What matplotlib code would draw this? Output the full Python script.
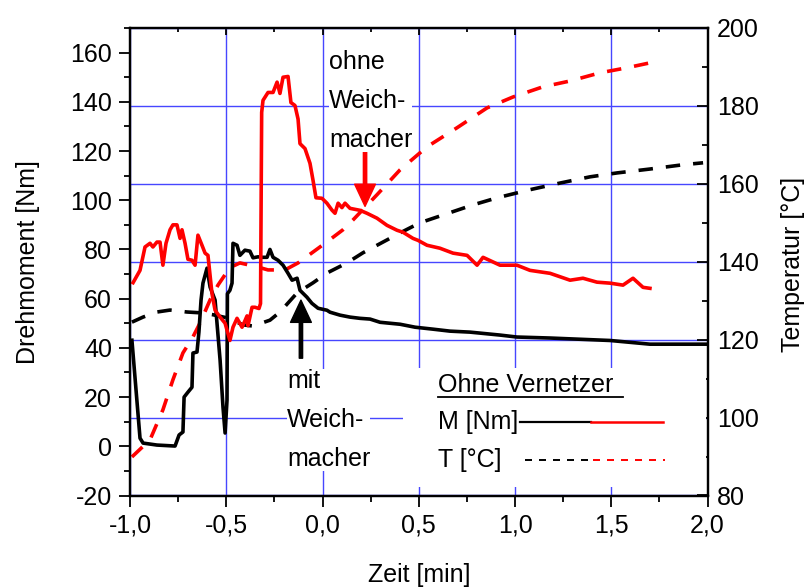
import matplotlib
matplotlib.use("Agg")
from matplotlib import pyplot as plt
from matplotlib.ticker import MultipleLocator
from matplotlib.patches import Rectangle

plt.rcParams['font.family'] = ['Liberation Sans', 'DejaVu Sans']
plt.rcParams['font.size'] = 18
plt.rcParams['axes.unicode_minus'] = False

# Drehmoment ohne Weichmacher (rot)
zeit_rot = [-0.984, -0.948, -0.922, -0.896, -0.881, -0.860, -0.844, -0.829, -0.813, -0.792,
            -0.777, -0.756, -0.740, -0.730, -0.714, -0.699, -0.678, -0.662, -0.647, -0.626,
            -0.610, -0.595, -0.574, -0.558, -0.532, -0.506, -0.481, -0.465, -0.444, -0.418,
            -0.403, -0.392, -0.387, -0.366, -0.351, -0.330, -0.322, -0.316, -0.309, -0.283,
            -0.257, -0.236, -0.221, -0.205, -0.179, -0.164, -0.143, -0.127, -0.117, -0.091,
            -0.065, -0.049, -0.034, -0.003, 0.023, 0.049, 0.065, 0.081, 0.101, 0.117,
            0.143, 0.195, 0.231, 0.283, 0.335, 0.387, 0.418, 0.470, 0.496, 0.543,
            0.610, 0.678, 0.751, 0.803, 0.834, 0.922, 1.010, 1.078, 1.182, 1.286,
            1.353, 1.426, 1.494, 1.561, 1.613, 1.665, 1.701]
M_rot = [66.5, 71.5, 81, 82.5, 81, 83, 83, 73.6, 82.5, 88,
         90, 90, 84.5, 88, 82.5, 76, 75.6, 73.6, 85.8, 81.7,
         78.5, 77.6, 62, 55.3, 52.5, 50, 43, 48.4, 52, 48.4,
         51, 53, 49, 56.5, 56.5, 56, 58, 135.7, 140.6, 143.8,
         143.8, 148, 143.4, 150, 150.3, 139.7, 138.5, 133, 123, 121,
         115, 108, 101, 100.8, 98.8, 96, 94.7, 98.8, 97, 98.8,
         96.7, 95.9, 94.7, 92.7, 89.8, 87.8, 87, 84.5, 83.7, 81.7,
         80.5, 78.5, 77.6, 73.6, 76.8, 73.6, 73.6, 71.5, 70.3, 67.5,
         68.3, 66.7, 66.3, 65.5, 68.3, 64.6, 64.2]

# Drehmoment mit Weichmacher (schwarz)
zeit_sw = [-0.990, -0.948, -0.932, -0.860, -0.766, -0.745, -0.725, -0.719, -0.699, -0.678,
           -0.673, -0.652, -0.642, -0.631, -0.621, -0.600, -0.584, -0.558, -0.548, -0.532,
           -0.517, -0.506, -0.496, -0.494, -0.481, -0.470, -0.465, -0.444, -0.429, -0.403,
           -0.377, -0.361, -0.335, -0.314, -0.288, -0.273, -0.257, -0.231, -0.205, -0.179,
           -0.158, -0.132, -0.117, -0.081, -0.055, -0.023, 0.023, 0.039, 0.091, 0.143,
           0.195, 0.247, 0.299, 0.351, 0.403, 0.481, 0.574, 0.662, 0.766, 0.922,
           1.010, 1.182, 1.494, 1.701, 2.0]
M_sw = [43.1, 3.3, 1.3, 0.5, 0.1, 4.6, 5.8, 20, 22, 24,
        37.9, 38.3, 46.4, 59.4, 66.3, 72.4, 64.7, 59.4, 50, 35,
        16, 5.4, 18.8, 62, 63.4, 66.3, 82.5, 81.7, 77.6, 79.7,
        79.3, 76.6, 77, 76.8, 76.8, 80, 76.8, 75.6, 73.6, 70.3,
        67.5, 68.3, 63.4, 60.6, 58.1, 56.1, 55.3, 54.5, 53.3, 52.5,
        52, 51.7, 50.4, 50, 49.6, 48.4, 47.6, 46.8, 46.4, 45.2,
        44.4, 44, 43, 41.5, 41.5]

# Temperatur
zeit_T_rot = [-0.990, -0.896, -0.829, -0.777, -0.725, -0.673, -0.636, -0.584, -0.543, -0.481,
              -0.429, -0.340, -0.283, -0.195, -0.127, -0.049, 0.023, 0.106, 0.158, 0.283,
              0.403, 0.543, 0.699, 0.855, 0.990, 1.145, 1.286, 1.442, 1.582, 1.696]
T_rot = [89.9, 94.3, 102, 109.7, 116.6, 120.7, 124.3, 130.2, 134, 138.5,
         139.7, 138.7, 137.9, 137.9, 139.7, 142.5, 145.1, 148.2, 150.7, 157.2,
         163.6, 169.5, 174.4, 179.5, 182.3, 184.9, 186.4, 188.5, 189.8, 191]

zeit_T_sw = [-0.990, -0.932, -0.860, -0.792, -0.704, -0.636, -0.569, -0.496, -0.413, -0.361,
             -0.273, -0.221, -0.132, -0.049, 0.023, 0.127, 0.210, 0.335, 0.403, 0.506,
             0.626, 0.782, 0.906, 1.078, 1.234, 1.390, 1.530, 1.701, 1.873, 1.977]
T_sw = [124.5, 125.8, 127.1, 127.6, 127.1, 126.9, 126.4, 125.6, 123.8, 123.5,
        125, 127.1, 132, 134.6, 137.1, 139.7, 142.3, 145.6, 147.4, 150,
        152, 154.6, 156.4, 158.5, 160.2, 161.8, 162.8, 163.8, 164.9, 165.4]

x_ticks = [-1.0, -0.5, 0.0, 0.5, 1.0, 1.5, 2.0]
x_labels = ['-1,0', '-0,5', '0,0', '0,5', '1,0', '1,5', '2,0']

blau = '#4646ff'
lw = 2.6

fig = plt.figure(figsize=(8.09, 5.88), dpi=100)
ax = fig.add_axes([130/809, 1-495.5/588, 577.5/809, 467.5/588])
ax2 = ax.twinx()

# Gitter kommt von der rechten Achse und liegt unter allem
ax.set_zorder(ax2.get_zorder() + 1)
ax.patch.set_visible(False)
ax2.xaxis.set_visible(True)
ax2.set_axisbelow(True)
ax2.grid(True, which='major', color=blau, lw=1.0)

ax2.plot(zeit_T_sw, T_sw, color='black', lw=lw, dashes=(4.0, 3.6))
ax2.plot(zeit_T_rot, T_rot, color='red', lw=lw, dashes=(4.0, 3.6))
ax.plot(zeit_sw, M_sw, color='black', lw=lw)
ax.plot(zeit_rot, M_rot, color='red', lw=lw)

ax.set_xlim(-1, 2)
ax.set_ylim(-20, 170)
ax2.set_ylim(80, 200)

ax.set_xticks(x_ticks)
ax.set_xticklabels(x_labels)
ax.xaxis.set_minor_locator(MultipleLocator(0.25))
ax.yaxis.set_major_locator(MultipleLocator(20))
ax.yaxis.set_minor_locator(MultipleLocator(10))
ax2.yaxis.set_major_locator(MultipleLocator(20))
ax2.yaxis.set_minor_locator(MultipleLocator(10))

ax.tick_params(axis='both', which='major', direction='out', length=8, width=1.3, pad=5)
ax.tick_params(axis='both', which='minor', direction='out', length=4.5, width=1.3)
ax.tick_params(axis='x', top=False)
ax2.tick_params(axis='x', which='both', bottom=False, top=True, labelbottom=False,
                labeltop=False, direction='in', width=1.3)
ax2.tick_params(axis='x', which='major', length=5)
ax2.tick_params(axis='x', which='minor', length=3)
ax2.tick_params(axis='y', which='major', direction='in', length=8, width=1.3, pad=7)
ax2.tick_params(axis='y', which='minor', direction='in', length=4.5, width=1.3)
ax2.xaxis.set_minor_locator(MultipleLocator(0.25))

for a in (ax, ax2):
    for s in a.spines.values():
        s.set_linewidth(1.6)

ax.set_xlabel('Zeit [min]', va='center')
ax.xaxis.set_label_coords(0.5, -0.170)
ax.set_ylabel('Drehmoment [Nm]', va='center')
ax.yaxis.set_label_coords(-0.177, 0.5)
ax2.set_ylabel('Temperatur [°C]', va='center')
ax2.yaxis.set_label_coords(1.148, 0.495)

# Beschriftungen mit Pfeilen
ax.annotate('', xy=(0.221, 97.5), xytext=(0.221, 119.5),
            arrowprops=dict(color='red', width=2.4, headwidth=15, headlength=16, shrink=0))
ax.annotate('', xy=(-0.112, 59.4), xytext=(-0.112, 35.8),
            arrowprops=dict(color='black', width=2.4, headwidth=15, headlength=16, shrink=0))
ax.text(0.034, 140.3, 'ohne\nWeich-\nmacher', ha='left', va='center', linespacing=1.8,
        bbox=dict(facecolor='white', edgecolor='none', pad=0), zorder=6)
ax.text(-0.184, 10.8, 'mit\nWeich-\nmacher', ha='left', va='center', linespacing=1.8,
        bbox=dict(facecolor='white', edgecolor='none', pad=0), zorder=6)

# Legende
ax.add_patch(Rectangle((0.473, 0.018), 0.525, 0.255, transform=ax.transAxes,
                       facecolor='white', edgecolor='none', zorder=5))
ax.text(0.533, 0.236, 'Ohne Vernetzer', transform=ax.transAxes, ha='left', va='center', zorder=6)
ax.plot([0.533, 0.854], [0.211, 0.211], transform=ax.transAxes, color='black', lw=1.3, zorder=6)
ax.text(0.533, 0.157, 'M [Nm]', transform=ax.transAxes, ha='left', va='center', zorder=6)
ax.plot([0.675, 0.799], [0.157, 0.157], transform=ax.transAxes, color='black', lw=1.6, zorder=6)
ax.plot([0.799, 0.923], [0.157, 0.157], transform=ax.transAxes, color='red', lw=1.8, zorder=6)
ax.text(0.533, 0.076, 'T [°C]', transform=ax.transAxes, ha='left', va='center', zorder=6)
ax.plot([0.684, 0.801], [0.076, 0.076], transform=ax.transAxes, color='black', lw=1.4,
        dashes=(3.6, 3.6), zorder=6)
ax.plot([0.801, 0.927], [0.076, 0.076], transform=ax.transAxes, color='red', lw=1.4,
        dashes=(3.6, 3.6), zorder=6)

fig.savefig('out.png', dpi=100)
